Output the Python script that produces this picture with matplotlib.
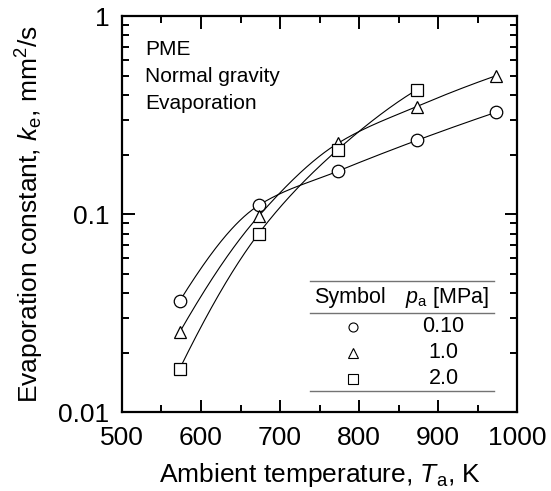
import numpy as np
import matplotlib.pyplot as plt
from matplotlib.ticker import FixedLocator, NullFormatter, MultipleLocator

plt.rcParams['font.family'] = ['Liberation Sans', 'DejaVu Sans']
plt.rcParams['mathtext.fontset'] = 'custom'
plt.rcParams['mathtext.it'] = 'Liberation Sans:italic'
plt.rcParams['mathtext.rm'] = 'Liberation Sans'

# === Data ===
temps = [573, 673, 773, 873, 973]
k_010 = [0.0365, 0.111, 0.165, 0.236, 0.327]   # pa = 0.10 MPa
k_10 = [0.0254, 0.098, 0.228, 0.350, 0.500]    # pa = 1.0 MPa
k_20 = [0.0166, 0.080, 0.212, 0.425]           # pa = 2.0 MPa

series = [
    (temps, k_010, 'o', '0.10'),
    (temps, k_10, '^', '1.0'),
    (temps[:4], k_20, 's', '2.0'),
]


def pchip(x, y, xx):
    # monotone cubic (Fritsch-Carlson) through the points
    h = np.diff(x)
    d = np.diff(y) / h
    m = np.zeros_like(y)
    for i in range(1, len(x) - 1):
        if d[i - 1] * d[i] > 0:
            w1 = 2 * h[i] + h[i - 1]
            w2 = h[i] + 2 * h[i - 1]
            m[i] = (w1 + w2) / (w1 / d[i - 1] + w2 / d[i])
    m[0] = ((2 * h[0] + h[1]) * d[0] - h[0] * d[1]) / (h[0] + h[1])
    m[-1] = ((2 * h[-1] + h[-2]) * d[-1] - h[-1] * d[-2]) / (h[-1] + h[-2])
    idx = np.clip(np.searchsorted(x, xx) - 1, 0, len(x) - 2)
    t = (xx - x[idx]) / h[idx]
    h00 = 2 * t**3 - 3 * t**2 + 1
    h10 = t**3 - 2 * t**2 + t
    h01 = -2 * t**3 + 3 * t**2
    h11 = t**3 - t**2
    return h00 * y[idx] + h10 * h[idx] * m[idx] + h01 * y[idx + 1] + h11 * h[idx] * m[idx + 1]


fig = plt.figure(figsize=(5.51, 4.91), dpi=100)
ax = fig.add_axes([0.2214, 0.16, 0.717, 0.807])

for t, k, m, lab in series:
    t = np.array(t, dtype=float)
    lk = np.log10(k)
    tt = np.linspace(t[0], t[-1], 300)
    ax.plot(tt, 10 ** pchip(t, lk, tt), color='black', lw=0.8, zorder=2)
    ax.plot(t, k, m, ms=9, mfc='white', mec='black', mew=0.9, ls='none', zorder=3)

ax.set_yscale('log')
ax.set_xlim(500, 1000)
ax.set_ylim(0.01, 1)
ax.xaxis.set_major_locator(MultipleLocator(100))
ax.xaxis.set_minor_locator(MultipleLocator(50))
ax.set_yticks([0.01, 0.1, 1])
ax.set_yticklabels(['0.01', '0.1', '1'])
ax.yaxis.set_minor_locator(FixedLocator([m * d for d in (0.01, 0.1) for m in range(2, 10)]))
ax.yaxis.set_minor_formatter(NullFormatter())

for s in ax.spines.values():
    s.set_linewidth(1.6)
ax.tick_params(which='both', direction='in', top=True, right=True, width=1.4, labelsize=19)
ax.tick_params(which='major', length=9)
ax.tick_params(which='minor', length=5)
ax.tick_params(axis='x', which='major', pad=10)
ax.tick_params(axis='y', which='major', pad=9)

ax.set_xlabel('Ambient temperature, $\\it{T}_{\\rm a}$, K', fontsize=19, labelpad=8)
ax.set_ylabel('Evaporation constant, $\\it{k}_{\\rm e}$, mm$^2$/s', fontsize=19, labelpad=9)

# Condition labels
for y, txt in zip([0.915, 0.847, 0.779], ['PME', 'Normal gravity', 'Evaporation']):
    ax.text(0.059, y, txt, transform=ax.transAxes, fontsize=15, va='center')

# Table-style legend
tc = '0.45'
for y in [0.332, 0.251, 0.055]:
    ax.plot([0.476, 0.941], [y, y], transform=ax.transAxes, color=tc, lw=1.0, clip_on=False)
ax.text(0.578, 0.290, 'Symbol', transform=ax.transAxes, fontsize=15.5, ha='center', va='center')
ax.text(0.822, 0.290, '$\\it{p}_{\\rm a}$ [MPa]', transform=ax.transAxes, fontsize=15.5,
        ha='center', va='center')
for (t, k, m, lab), y in zip(series, [0.216, 0.151, 0.085]):
    ax.plot([0.585], [y], m, ms=6.5, mfc='white', mec='black', mew=0.8, transform=ax.transAxes)
    ax.text(0.814, y, lab, transform=ax.transAxes, fontsize=15.5, ha='center', va='center')

fig.savefig('out.png', dpi=100)
